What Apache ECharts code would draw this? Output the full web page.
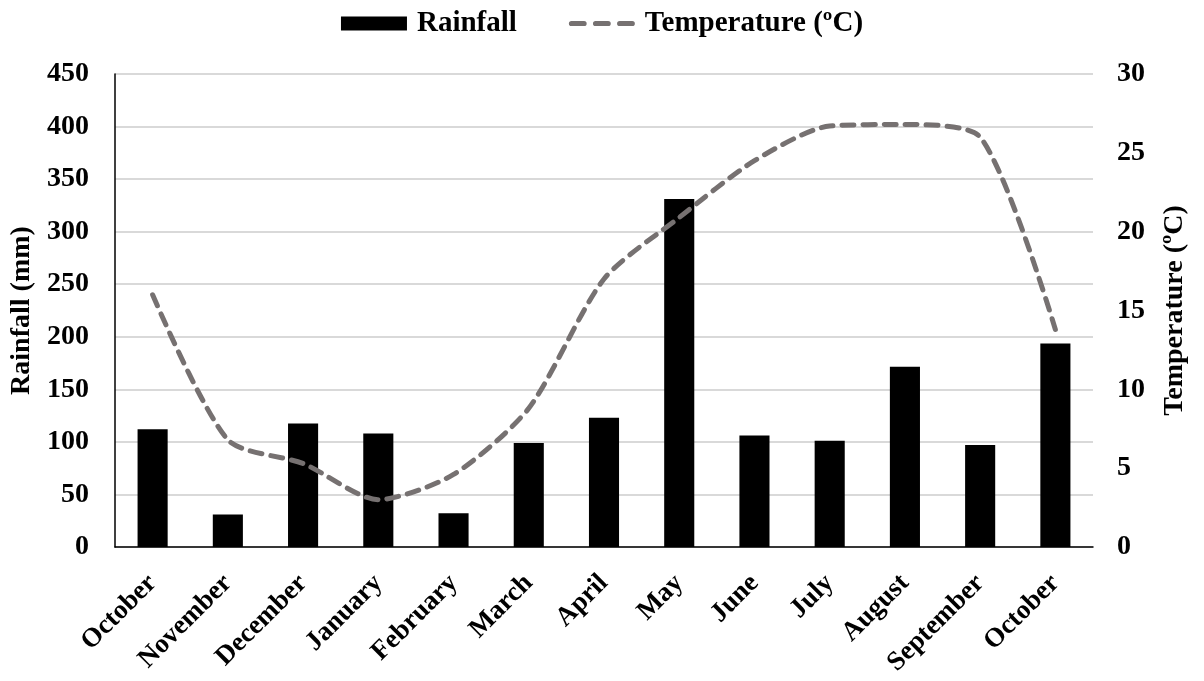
<!DOCTYPE html>
<html>
<head>
<meta charset="utf-8">
<script src="https://cdn.jsdelivr.net/npm/echarts@6/dist/echarts.min.js"></script>
<style>
html,body{margin:0;padding:0;background:#fff;}
#chart{width:1204px;height:681px;}
</style>
</head>
<body>
<div id="chart"></div>
<script>
const categories = ["October","November","December","January","February","March","April","May","June","July","August","September","October"];
const rainfall = [112, 31, 117.5, 108, 32, 99, 123, 331, 106, 101, 171.5, 97, 193.5];
const temperature = [16.0, 6.8, 5.3, 3.0, 4.6, 8.8, 17.0, 20.9, 24.5, 26.7, 26.8, 26.0, 13.8];
const leftTicks = {min: 0, max: 450, interval: 50};
const rightTicks = {min: 0, max: 30, interval: 5};

const FONT = "'Liberation Serif', 'Times New Roman', serif";
const chart = echarts.init(document.getElementById('chart'));
chart.setOption({
  backgroundColor: '#ffffff',
  animation: false,
  textStyle: {fontFamily: FONT},
  legend: {
    top: 4,
    left: 'center',
    itemWidth: 66,
    itemHeight: 14,
    itemGap: 52,
    textStyle: {fontFamily: FONT, fontWeight: 'bold', fontSize: 29, color: '#000', padding: [0, 0, 0, 5]},
    data: [
      {name: 'Rainfall', icon: 'rect'},
      {name: 'Temperature (ºC)', icon: 'path://M2,0h12a2,2 0 0 1 0,5h-12a2,2 0 0 1 0,-5z M25,0h12a2,2 0 0 1 0,5h-12a2,2 0 0 1 0,-5z M48,0h12a2,2 0 0 1 0,5h-12a2,2 0 0 1 0,-5z'}
    ]
  },
  grid: {left: 115, right: 111, top: 74, bottom: 134},
  xAxis: {
    type: 'category',
    data: categories,
    boundaryGap: true,
    axisLine: {lineStyle: {color: '#000', width: 1.5}},
    axisTick: {show: false},
    axisLabel: {
      rotate: 45, interval: 0, margin: 32,
      fontFamily: FONT, fontWeight: 'bold', fontSize: 27, color: '#000'
    }
  },
  yAxis: [
    {
      type: 'value',
      min: leftTicks.min, max: leftTicks.max, interval: leftTicks.interval,
      name: 'Rainfall (mm)',
      nameLocation: 'middle',
      nameGap: 75,
      nameTextStyle: {fontFamily: FONT, fontWeight: 'bold', fontSize: 28, color: '#000'},
      axisLine: {show: true, lineStyle: {color: '#000', width: 1.5}},
      axisTick: {show: false},
      axisLabel: {margin: 26, fontFamily: FONT, fontWeight: 'bold', fontSize: 28, color: '#000'},
      splitLine: {show: true, lineStyle: {color: '#d9d9d9', width: 2}}
    },
    {
      type: 'value',
      min: rightTicks.min, max: rightTicks.max, interval: rightTicks.interval,
      name: 'Temperature (ºC)',
      nameLocation: 'middle',
      nameGap: 68,
      nameRotate: 90,
      nameTextStyle: {fontFamily: FONT, fontWeight: 'bold', fontSize: 28, color: '#000'},
      axisLine: {show: false},
      axisTick: {show: false},
      axisLabel: {margin: 24, fontFamily: FONT, fontWeight: 'bold', fontSize: 28, color: '#000'},
      splitLine: {show: false}
    }
  ],
  series: [
    {
      name: 'Rainfall',
      type: 'bar',
      yAxisIndex: 0,
      barWidth: '40%',
      itemStyle: {color: '#000000'},
      data: rainfall
    },
    {
      name: 'Temperature (ºC)',
      type: 'line',
      yAxisIndex: 1,
      smooth: 0.25,
      symbol: 'none',
      lineStyle: {color: '#767171', width: 5, type: [12, 9], cap: 'round'},
      itemStyle: {color: '#767171'},
      data: temperature
    }
  ]
});
</script>
</body>
</html>
